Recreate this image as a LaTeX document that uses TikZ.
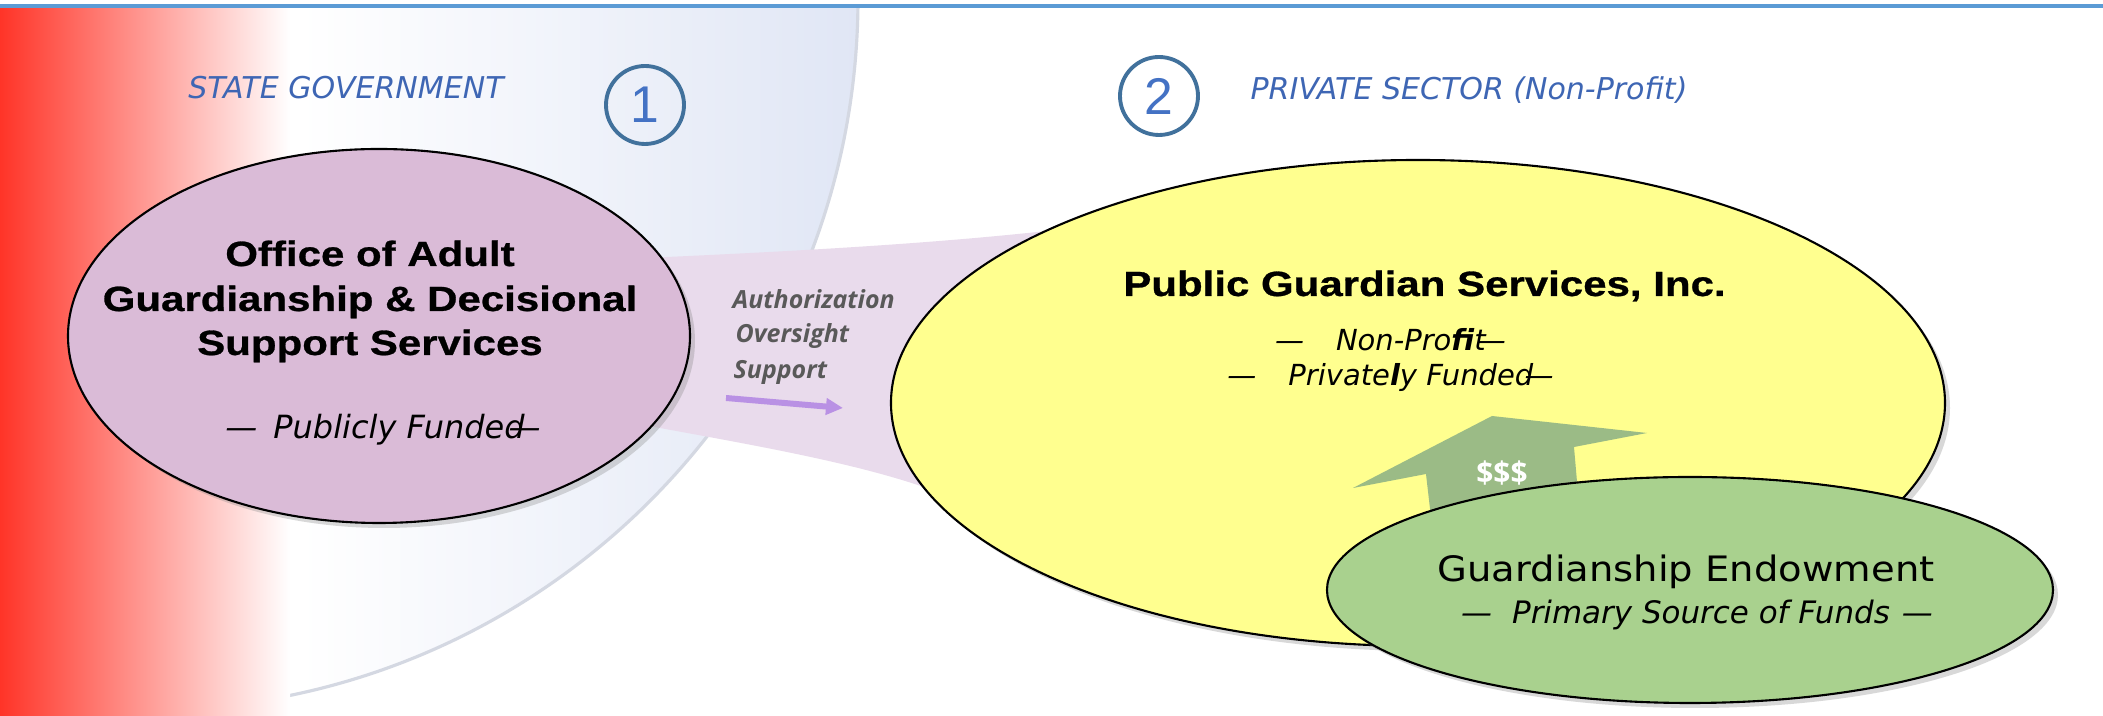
\documentclass[tikz,border=0pt]{standalone}
\usepackage{fontspec}
\setmainfont{DejaVu Sans}
\newfontfamily\titlefont[FakeStretch=1.2,BoldFeatures={FakeBold=0.8}]{Liberation Sans}
\newfontfamily\endowfont[FakeStretch=1.1]{DejaVu Sans}
\newfontfamily\linkfont{Open Sans}
\newfontfamily\numfont{Liberation Sans}
\usetikzlibrary{shapes,arrows}
\usetikzlibrary{arrows.meta}
\usetikzlibrary{shadows}

\definecolor{ruleBlue}{RGB}{91,155,213}
\definecolor{stateRed}{RGB}{255,52,40}
\definecolor{stateMid}{RGB}{255,172,166}
\definecolor{discBlue}{RGB}{224,230,245}
\definecolor{discRim}{RGB}{212,216,226}
\definecolor{bandLilac}{RGB}{233,219,236}
\definecolor{officeLilac}{RGB}{218,187,215}
\definecolor{companyYellow}{RGB}{255,255,143}
\definecolor{fundGreen}{RGB}{169,209,142}
\definecolor{arrowGreen}{RGB}{155,187,134}
\definecolor{headBlue}{RGB}{62,102,180}
\definecolor{numRing}{RGB}{65,113,156}
\definecolor{numBlue}{RGB}{68,114,196}
\definecolor{linkGrey}{RGB}{89,89,89}
\definecolor{linkViolet}{RGB}{185,145,228}

\tikzstyle{ovalLine}=[draw=black,line width=.6pt]
\tikzstyle{Oval}=[ellipse,ovalLine,inner sep=0pt,drop shadow={shadow xshift=.05cm,shadow yshift=-.05cm,opacity=.3}]
\tikzstyle{Office}=[Oval,fill=officeLilac,minimum width=6.22cm,minimum height=3.74cm]
\tikzstyle{Company}=[Oval,fill=companyYellow,minimum width=10.54cm,minimum height=4.86cm]
\tikzstyle{Endowment}=[Oval,fill=fundGreen,minimum width=7.26cm,minimum height=2.26cm]
\tikzstyle{Number}=[circle,draw=numRing,line width=1.1pt,minimum size=.78cm,inner sep=0pt,text=numBlue,font=\numfont\fontsize{14.7}{15}\selectfont]
\tikzstyle{Heading}=[anchor=base,inner sep=0pt,text=headBlue,font=\itshape\fontsize{8.54}{10}\selectfont]
\tikzstyle{Title}=[anchor=base,inner sep=0pt,font=\titlefont\bfseries\fontsize{9.96}{12}\selectfont]
\tikzstyle{Note}=[anchor=base,inner sep=0pt,font=\itshape\fontsize{8.25}{10}\selectfont]
\tikzstyle{Link}=[anchor=base west,inner sep=0pt,text=linkGrey,font=\linkfont\bfseries\itshape\fontsize{7.1}{9}\selectfont]
\tikzstyle{LinkArrow}=[draw=linkViolet,line width=1.7pt,-{Triangle[length=.17cm,width=.16cm]}]
\tikzstyle{Money}=[inner sep=0pt,text=white,font=\linkfont\bfseries\fontsize{8.5}{9}\selectfont]
\tikzstyle{Rule}=[draw=ruleBlue,line width=1pt]
\tikzstyle{Rim}=[draw=discRim,line width=.9pt]

\begin{document}
\begin{tikzpicture}

  % Frame
  % -----
  \useasboundingbox (0,0) rectangle (21.03,7.16);
  \fill[white] (0,0) rectangle (21.03,7.16);

  % State government disc
  \begin{scope}
    \clip (0,0) rectangle (21.03,7.09);
    \begin{scope}
      \clip (1.46,7.18) circle (7.12);
      \shade[left color=white,right color=discBlue] (3.0,0) rectangle (8.6,7.09);
    \end{scope}
    \draw[Rim] (1.46,7.18) circle (7.12);
  \end{scope}
  \shade[left color=stateRed,middle color=stateMid,right color=white] (0,0) rectangle (2.9,7.09);
  \draw[Rule] (0,7.10)--(21.03,7.10);

  % Band between the two offices
  \fill[bandLilac] (6.0,4.56)--(6.67,4.59) .. controls (8.2,4.66) and (9.6,4.74) .. (10.9,4.9)
    --(9.7,2.1) .. controls (9.0,2.45) and (7.8,2.66) .. (6.6,2.88)--(6.0,2.98)--cycle;

  % Office (state)
  \node[Office] (office) at (3.79,3.80) {};
  \node[Title] (officeA) at (3.70,4.50) {Office of Adult};
  \node[Title] (officeB) at (3.70,4.05) {Guardianship \& Decisional};
  \node[Title] (officeC) at (3.70,3.61) {Support Services};
  \node[Note,font=\itshape\fontsize{9.1}{10}\selectfont] (officeFund) at (3.83,2.77) {—\hspace{.16cm}Publicly Funded\kern-.5em—};

  % Link
  \node[Link] (linkA) at (7.32,4.07) {Authorization};
  \node[Link] (linkB) at (7.35,3.73) {Oversight};
  \node[Link] (linkC) at (7.33,3.37) {Support};
  \coordinate (linkStart) at (7.26,3.18);
  \coordinate (linkEnd) at (8.43,3.08);
  \draw[LinkArrow] (linkStart)--(linkEnd);

  % Company (private)
  \node[Company] (company) at (14.18,3.13) {};
  \node[Title] (companyName) at (14.245,4.20) {Public Guardian Services, Inc.};
  \node[Note] (companyA) at (13.905,3.65) {—\hspace{.32cm}Non-Pro{\bfseries fi}t\kern-.3em—};
  \node[Note] (companyB) at (13.905,3.30) {—\hspace{.32cm}Private{\bfseries l}y Funded\kern-.3em—};

  % Funds arrow
  \fill[arrowGreen] (14.92,3.00)--(16.47,2.83)--(15.74,2.69)--(15.80,2.00)--(14.32,1.90)--(14.26,2.42)--(13.53,2.28)--cycle;
  \node[Money] (money) at (15.02,2.43) {\$\$\$};

  % Endowment
  \node[Endowment] (endowment) at (16.90,1.26) {};
  \node[anchor=base,inner sep=0pt,font=\endowfont\fontsize{9.96}{12}\selectfont] (endowName) at (16.86,1.34) {Guardianship Endowment};
  \node[Note,font=\itshape\fontsize{8.8}{10}\selectfont] (endowNote) at (16.97,0.92) {—\hspace{.2cm}Primary Source of Funds\hspace{.12cm}—};

  % Headings
  \node[Heading] (stateHead) at (3.46,6.17) {STATE GOVERNMENT};
  \node[Heading] (privateHead) at (14.69,6.165) {PRIVATE SECTOR (Non-Profit)};
  \node[Number] (stateNum) at (6.45,6.11) {1};
  \node[Number] (privateNum) at (11.59,6.20) {2};

\end{tikzpicture}
\end{document}
